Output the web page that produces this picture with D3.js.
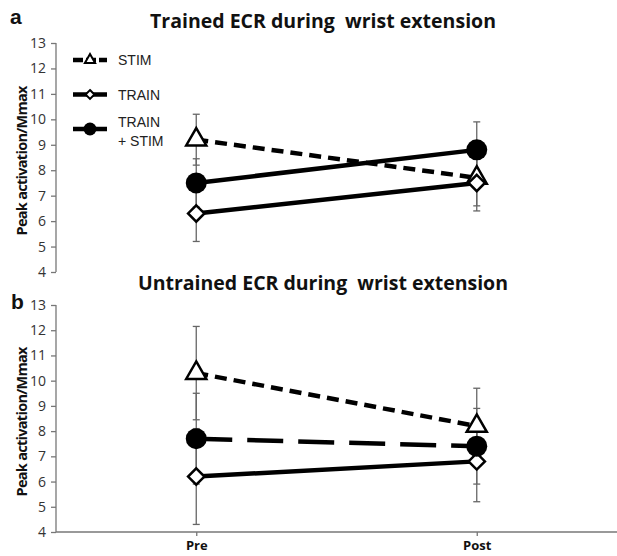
<!DOCTYPE html>
<html>
<head>
<meta charset="utf-8">
<script src="https://cdn.jsdelivr.net/npm/d3@7"></script>
<style>
  body { margin: 0; background: #fff; }
  svg { display: block; }
</style>
</head>
<body>
<svg width="617" height="556"></svg>
<script>
// Data
const phases = ["Pre", "Post"];
const yTicks = [4, 5, 6, 7, 8, 9, 10, 11, 12, 13];
const seriesNames = ["STIM", "TRAIN", "TRAIN + STIM"];

// panel a: trained ECR
const trainedStim = [9.2, 7.7];
const trainedStimErr = [1.0, 1.1];
const trainedTrain = [6.3, 7.5];
const trainedTrainErr = [1.1, 1.1];
const trainedBoth = [7.5, 8.8];
const trainedBothErr = [0.95, 1.1];

// panel b: untrained ECR
const untrainedStim = [10.3, 8.2];
const untrainedStimErr = [1.85, 1.5];
const untrainedTrain = [6.2, 6.8];
const untrainedTrainErr = [1.9, 1.6];
const untrainedBoth = [7.7, 7.4];
const untrainedBothErr = [1.8, 1.5];

const svg = d3.select("svg");
const fontTitle = "'Open Sans', 'Noto Sans', sans-serif";
const fontText = "'Liberation Sans', Arial, sans-serif";

const axisLeft = 56;
const xScale = d3.scalePoint().domain(phases).range([axisLeft, 617]).padding(0.5);

// marker sizes: [triangle area, diamond area, circle radius, stroke]
const bigMarker = [175, 170, 10.5, 2.5];
const smallMarker = [45, 50, 6.5, 2];

function drawMarker(g, kind, x, y, m) {
  if (kind === "STIM") {
    g.append("path")
      .attr("d", d3.symbol().type(d3.symbolTriangle).size(m[0])())
      .attr("transform", `translate(${x},${y})`)
      .attr("fill", "#fff").attr("stroke", "#000").attr("stroke-width", m[3]);
  } else if (kind === "TRAIN") {
    g.append("path")
      .attr("d", d3.symbol().type(d3.symbolDiamond2).size(m[1])())
      .attr("transform", `translate(${x},${y})`)
      .attr("fill", "#fff").attr("stroke", "#000").attr("stroke-width", m[3]);
  } else {
    g.append("circle")
      .attr("cx", x).attr("cy", y).attr("r", m[2])
      .attr("fill", "#000");
  }
}

function renderPanel(opts) {
  const yScale = d3.scaleLinear().domain([4, 13]).range([opts.bottom, opts.top]);
  const g = svg.append("g");

  // Title
  g.append("text")
    .text(opts.title)
    .attr("x", 323).attr("y", opts.titleY)
    .attr("text-anchor", "middle")
    .attr("textLength", opts.titleLen)
    .style("white-space", "pre")
    .style("font-family", fontTitle).style("font-weight", "bold")
    .style("font-size", "19.5px").style("fill", "#111");

  // Panel letter
  g.append("text")
    .text(opts.letter)
    .attr("x", opts.letterX).attr("y", opts.letterY)
    .style("font-family", fontText).style("font-weight", "bold")
    .style("font-size", "21px").style("fill", "#111");

  // Y axis
  const yAxis = d3.axisLeft(yScale).tickValues(yTicks).tickSize(5).tickPadding(5);
  const ya = g.append("g").attr("transform", `translate(${axisLeft},0)`).call(yAxis);
  ya.select(".domain").attr("d", `M0,${opts.top}V${opts.bottom}`).attr("stroke", "#777").attr("stroke-width", 1.3);
  ya.selectAll(".tick line").attr("stroke", "#777").attr("stroke-width", 1.3);
  ya.selectAll(".tick text")
    .style("font-family", fontTitle).style("font-size", "14px").style("fill", "#333");

  // Y label
  g.append("text")
    .text("Peak activation/Mmax")
    .attr("transform", `translate(27,${(opts.top + opts.bottom) / 2 + 3}) rotate(-90)`)
    .attr("text-anchor", "middle")
    .attr("textLength", 150)
    .style("font-family", fontTitle).style("font-weight", "bold")
    .style("font-size", "14.5px").style("fill", "#111");

  // X axis (only lower panel)
  if (opts.xAxis) {
    const xAxis = d3.axisBottom(xScale).tickSize(4).tickPadding(5);
    const xa = g.append("g").attr("transform", `translate(0,${opts.bottom})`).call(xAxis);
    xa.select(".domain").attr("d", `M${axisLeft},0H617`).attr("stroke", "#777").attr("stroke-width", 1.3);
    xa.selectAll(".tick line").attr("stroke", "#777").attr("stroke-width", 1.3);
    xa.selectAll(".tick text")
      .style("font-family", fontTitle).style("font-weight", "bold")
      .style("font-size", "13px").style("fill", "#111");
  }

  // Error bars
  opts.series.forEach(s => {
    s.values.forEach((v, i) => {
      const x = xScale(phases[i]);
      const hi = yScale(v + s.err[i]);
      const lo = yScale(v - s.err[i]);
      g.append("line").attr("x1", x).attr("x2", x).attr("y1", hi).attr("y2", lo)
        .attr("stroke", "#666").attr("stroke-width", 1.3);
      [hi, lo].forEach(yy => {
        g.append("line").attr("x1", x - 3.5).attr("x2", x + 3.5).attr("y1", yy).attr("y2", yy)
          .attr("stroke", "#666").attr("stroke-width", 1.3);
      });
    });
  });

  // Lines
  const line = d3.line().x((d, i) => xScale(phases[i])).y(d => yScale(d));
  opts.series.forEach(s => {
    g.append("path")
      .datum(s.values)
      .attr("d", line)
      .attr("fill", "none")
      .attr("stroke", "#000")
      .attr("stroke-width", 4.5)
      .attr("stroke-dasharray", s.dash);
  });

  // Markers
  opts.series.forEach(s => {
    s.values.forEach((v, i) => drawMarker(g, s.name, xScale(phases[i]), yScale(v), bigMarker));
  });
}

renderPanel({
  title: "Trained ECR during  wrist extension",
  titleY: 28, titleLen: 346,
  letter: "a", letterX: 10, letterY: 24,
  top: 43, bottom: 272, xAxis: false,
  series: [
    { name: "STIM", values: trainedStim, err: trainedStimErr, dash: "12,7" },
    { name: "TRAIN", values: trainedTrain, err: trainedTrainErr, dash: null },
    { name: "TRAIN + STIM", values: trainedBoth, err: trainedBothErr, dash: null }
  ]
});

renderPanel({
  title: "Untrained ECR during  wrist extension",
  titleY: 290, titleLen: 370,
  letter: "b", letterX: 11, letterY: 309,
  top: 305, bottom: 532, xAxis: true,
  series: [
    { name: "STIM", values: untrainedStim, err: untrainedStimErr, dash: "12,7" },
    { name: "TRAIN", values: untrainedTrain, err: untrainedTrainErr, dash: null },
    { name: "TRAIN + STIM", values: untrainedBoth, err: untrainedBothErr, dash: "36,15" }
  ]
});

// Legend (panel a)
const legend = svg.append("g").attr("transform", "translate(73,60)");
const legendDash = ["10,3", null, null];
seriesNames.forEach((name, i) => {
  const y = i * 34.5;
  legend.append("line")
    .attr("x1", 0).attr("x2", 34).attr("y1", y).attr("y2", y)
    .attr("stroke", "#000").attr("stroke-width", 4.5)
    .attr("stroke-dasharray", legendDash[i]);
  drawMarker(legend, name, 17, y, smallMarker);
  const label = legend.append("text")
    .attr("x", 45).attr("y", y + 5)
    .style("font-family", fontText).style("font-size", "14px").style("fill", "#222");
  if (name === "TRAIN + STIM") {
    label.append("tspan").attr("x", 45).attr("y", y - 2).text("TRAIN");
    label.append("tspan").attr("x", 45).attr("y", y + 17).text("+ STIM");
  } else {
    label.text(name);
  }
});
</script>
</body>
</html>
